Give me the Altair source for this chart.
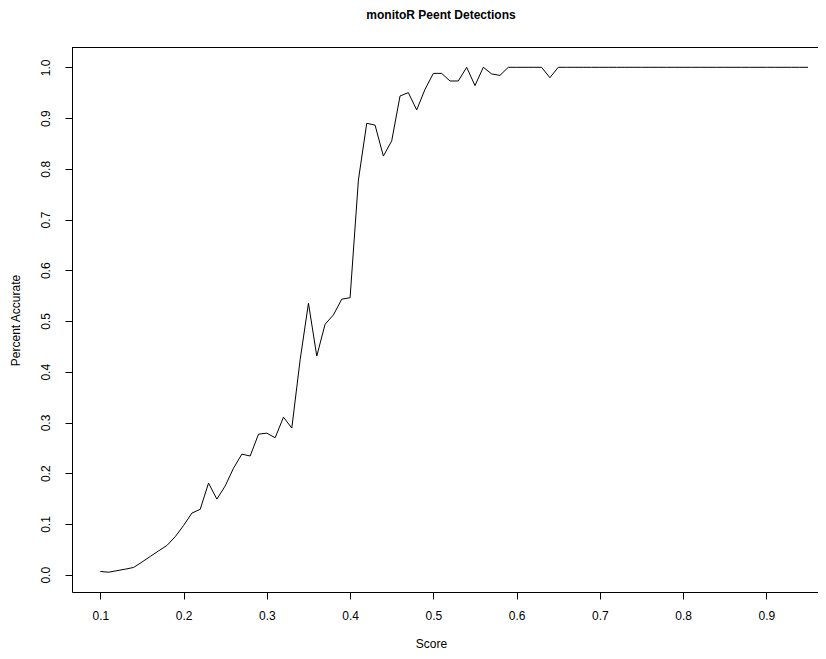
import altair as alt
import pandas as pd

scores = [0.10, 0.11, 0.12, 0.13, 0.14, 0.15, 0.16, 0.17, 0.18, 0.19,
          0.20, 0.21, 0.22, 0.23, 0.24, 0.25, 0.26, 0.27, 0.28, 0.29,
          0.30, 0.31, 0.32, 0.33, 0.34, 0.35, 0.36, 0.37, 0.38, 0.39,
          0.40, 0.41, 0.42, 0.43, 0.44, 0.45, 0.46, 0.47, 0.48, 0.49,
          0.50, 0.51, 0.52, 0.53, 0.54, 0.55, 0.56, 0.57, 0.58, 0.59,
          0.60, 0.61, 0.62, 0.63, 0.64, 0.65, 0.66, 0.67, 0.68, 0.69,
          0.70, 0.71, 0.72, 0.73, 0.74, 0.75, 0.76, 0.77, 0.78, 0.79,
          0.80, 0.81, 0.82, 0.83, 0.84, 0.85, 0.86, 0.87, 0.88, 0.89,
          0.90, 0.91, 0.92, 0.93, 0.94, 0.95]
accuracy = [0.0065, 0.005, 0.008, 0.011, 0.0144, 0.025, 0.036, 0.047, 0.0577, 0.075,
            0.097, 0.1215, 0.129, 0.1806, 0.149, 0.175, 0.21, 0.2377, 0.234, 0.277,
            0.279, 0.270, 0.3105, 0.289, 0.4235, 0.535, 0.431, 0.4937, 0.512, 0.543,
            0.546, 0.778, 0.8897, 0.886, 0.825, 0.855, 0.9435, 0.950, 0.916, 0.9566,
            0.988, 0.988, 0.973, 0.973, 1.0, 0.964, 1.0, 0.987, 0.984, 1.0,
            1.0, 1.0, 1.0, 1.0, 0.9795, 1.0, 1.0, 1.0, 1.0, 1.0,
            1.0, 1.0, 1.0, 1.0, 1.0, 1.0, 1.0, 1.0, 1.0, 1.0,
            1.0, 1.0, 1.0, 1.0, 1.0, 1.0, 1.0, 1.0, 1.0, 1.0,
            1.0, 1.0, 1.0, 1.0, 1.0, 1.0]

x_ticks = [0.1, 0.2, 0.3, 0.4, 0.5, 0.6, 0.7, 0.8, 0.9]
y_ticks = [0.0, 0.1, 0.2, 0.3, 0.4, 0.5, 0.6, 0.7, 0.8, 0.9, 1.0]

df = pd.DataFrame({"Score": scores, "Accuracy": accuracy})

W = 746
H = 545
FONT = "Liberation Sans"

line = alt.Chart(df).mark_line(color="black", strokeWidth=1, clip=True).encode(
    x=alt.X("Score:Q",
            scale=alt.Scale(domain=[0.066, 0.962], nice=False, zero=False),
            axis=alt.Axis(values=x_ticks, format=".1f", title="Score",
                          grid=False, tickSize=7, labelPadding=11,
                          domainColor="black", tickColor="black", labelColor="black",
                          labelFontSize=12, labelFont=FONT, labelFlush=False,
                          titleFont=FONT, titleFontSize=12, titleFontWeight="normal",
                          titleColor="black", titleX=359, titleY=51,
                          titleBaseline="middle", titleAlign="center")),
    y=alt.Y("Accuracy:Q",
            scale=alt.Scale(domain=[-0.034, 1.04], nice=False, zero=False),
            axis=alt.Axis(values=y_ticks, format=".1f", title="Percent Accurate",
                          grid=False, tickSize=7, labelPadding=13, labelAngle=-90,
                          labelAlign="center", labelBaseline="bottom",
                          domainColor="black", tickColor="black", labelColor="black",
                          labelFontSize=12, labelFont=FONT, labelFlush=False,
                          titleFont=FONT, titleFontSize=12, titleFontWeight="normal",
                          titleColor="black", titleX=-57, titleY=273, titleAngle=270,
                          titleBaseline="middle", titleAlign="center")),
)

top_border = alt.Chart(df).mark_rule(color="black", strokeWidth=1).encode(
    x=alt.value(0), x2=alt.value(W + 10), y=alt.value(0.5)
)

chart = alt.layer(line, top_border).properties(
    width=W, height=H,
    title=alt.TitleParams("monitoR Peent Detections", font=FONT, fontSize=12,
                          fontWeight="bold", color="black", offset=25, dx=-4),
    autosize=alt.AutoSizeParams(type="none"),
    padding={"left": 64, "top": 39, "right": 0, "bottom": 59},
).configure_view(stroke=None)

chart.save("out.html", embed_options={"renderer": "svg", "actions": False})
